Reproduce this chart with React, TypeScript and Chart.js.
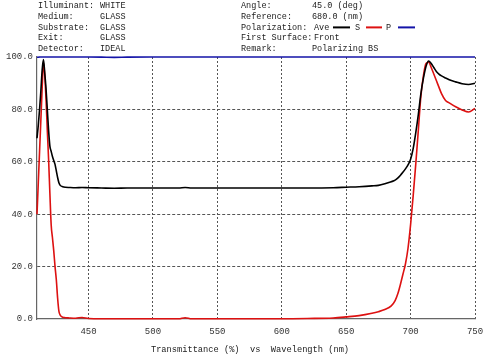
import React, { useEffect, useRef } from "react";
import { Chart, registerables } from "chart.js";

Chart.register(...registerables);

const wavelengths = [
  410, 411, 412, 413, 414, 415, 416, 417, 418, 419, 420, 421, 422, 423, 424, 425, 426, 427, 428, 430,
  432, 435, 440, 445, 450, 460, 470, 480, 500, 520, 525, 530, 550, 570, 600, 620, 640, 650, 660, 670,
  675, 680, 685, 688, 690, 692, 694, 696, 698, 700, 702, 704, 706, 708, 710, 712, 714, 716, 718, 720,
  722, 724, 727, 730, 735, 740, 745, 750,
];

const aveValues = [
  69, 74, 80, 87, 95, 99, 94, 88, 80, 72, 66, 64, 62, 60.5, 59, 56.5, 54, 52, 51, 50.5,
  50.3, 50.2, 50.1, 50.2, 50.1, 50, 49.9, 50, 50, 50, 50.2, 50, 50, 50, 50, 50, 50.1, 50.3, 50.5, 50.8,
  51, 51.6, 52.4, 53, 53.8, 54.8, 56, 57.3, 58.8, 61, 65, 71, 78, 86, 92, 96.5, 98.5, 97.5, 96, 94.5,
  93.5, 92.8, 92, 91.3, 90.5, 89.8, 89.5, 90,
];

const sValues = [
  40, 52, 64, 76, 88, 98, 93, 84, 72, 61, 48, 36, 31, 26, 20, 15, 8, 3, 1.5, 0.7,
  0.5, 0.4, 0.3, 0.6, 0.2, 0.1, 0.1, 0.1, 0.1, 0.1, 0.5, 0.1, 0.1, 0.1, 0.1, 0.2, 0.4, 0.8, 1.3, 2.2,
  2.8, 3.6, 5, 7, 9.5, 13, 17, 21, 27, 36, 47, 59, 72, 85, 93, 97.5, 98, 96, 93.5, 91,
  88.5, 86, 83.5, 82.5, 81, 79.8, 79, 80.4,
];

const pValues = [
  99.9, 99.9, 100, 100, 100, 100, 100, 100, 100, 100, 100, 100, 100, 100, 100, 100, 100, 100, 100, 100,
  100, 100, 100, 100, 100, 99.95, 99.85, 99.95, 100, 100, 100, 100, 100, 100, 100, 100, 100, 100, 100, 100,
  100, 100, 100, 100, 100, 100, 100, 100, 100, 100, 100, 100, 100, 100, 100, 100, 100, 100, 100, 100,
  100, 100, 100, 100, 100, 100, 100, 100,
];

const xTicks = [450, 500, 550, 600, 650, 700, 750];

const headerLeft: [string, string][] = [
  ["Illuminant:", "WHITE"],
  ["Medium:", "GLASS"],
  ["Substrate:", "GLASS"],
  ["Exit:", "GLASS"],
  ["Detector:", "IDEAL"],
];

const headerRight: [string, string][] = [
  ["Angle:", "45.0 (deg)"],
  ["Reference:", "680.0 (nm)"],
  ["Polarization:", ""],
  ["First Surface:", "Front"],
  ["Remark:", "Polarizing BS"],
];

const xTitle = "Transmittance (%)  vs  Wavelength (nm)";

const AVE_COLOR = "#000000";
const S_COLOR = "#dd1111";
const P_COLOR = "#1414a8";
const MONO = "'Liberation Mono', 'DejaVu Sans Mono', monospace";

const headerPlugin = {
  id: "header",
  afterDraw(chart: any) {
    const ctx = chart.ctx as CanvasRenderingContext2D;
    ctx.save();
    ctx.font = `8.5px ${MONO}`;
    ctx.fillStyle = "#222";
    ctx.textBaseline = "middle";
    ctx.textAlign = "left";
    headerLeft.forEach(([k, v], i) => {
      const y = 6 + i * 10.7;
      ctx.fillText(k, 38, y);
      ctx.fillText(v, 100, y);
    });
    headerRight.forEach(([k, v], i) => {
      const y = 6 + i * 10.7;
      ctx.fillText(k, 241, y);
      if (v) ctx.fillText(v, k.length > 12 ? 314 : 312, y);
    });
    const py = 6 + 2 * 10.7;
    const items: [string, string, number, number, number][] = [
      ["Ave", AVE_COLOR, 314, 333, 350],
      ["S", S_COLOR, 355, 366, 382],
      ["P", P_COLOR, 386, 398, 415],
    ];
    items.forEach(([label, color, tx, l1, l2]) => {
      ctx.fillStyle = "#222";
      ctx.fillText(label, tx, py);
      ctx.strokeStyle = color;
      ctx.lineWidth = 2;
      ctx.beginPath();
      ctx.moveTo(l1, py);
      ctx.lineTo(l2, py);
      ctx.stroke();
    });
    ctx.fillStyle = "#222";
    ctx.textAlign = "center";
    ctx.font = `8.7px ${MONO}`;
    ctx.fillText(xTitle, 250, 350);
    ctx.restore();
  },
};

export default function App() {
  const ref = useRef<HTMLCanvasElement | null>(null);

  useEffect(() => {
    if (!ref.current) return;
    const mk = (vals: number[]) => wavelengths.map((w, i) => ({ x: w, y: vals[i] }));
    const common = {
      pointRadius: 0,
      borderWidth: 1.6,
      fill: false,
      clip: false,
      cubicInterpolationMode: "monotone" as const,
    };
    const chart = new Chart(ref.current, {
      type: "line",
      data: {
        datasets: [
          { ...common, label: "P", data: mk(pValues), borderColor: P_COLOR, order: 3 },
          { ...common, label: "S", data: mk(sValues), borderColor: S_COLOR, order: 2 },
          { ...common, label: "Ave", data: mk(aveValues), borderColor: AVE_COLOR, order: 1 },
        ],
      },
      options: {
        animation: false,
        responsive: false,
        events: [],
        layout: { padding: { top: 57, right: 25, left: 0, bottom: 0 } },
        plugins: { legend: { display: false }, tooltip: { enabled: false }, title: { display: false } },
        scales: {
          x: {
            type: "linear",
            min: 410,
            max: 750,
            afterFit: (s: any) => {
              s.height = 41;
            },
            afterBuildTicks: (s: any) => {
              s.ticks = xTicks.map((v) => ({ value: v }));
            },
            ticks: {
              font: { family: MONO, size: 9 },
              color: "#333",
              padding: 7,
              maxRotation: 0,
              autoSkip: false,
              callback: (v: any) => String(v),
            },
            grid: {
              drawTicks: false,
              color: "#555",
              lineWidth: 1,
            },
            border: { display: true, color: "#666", width: 1.2, dash: [2, 2] },
          },
          y: {
            min: 0,
            max: 100,
            afterFit: (s: any) => {
              s.width = 37;
            },
            ticks: {
              stepSize: 20,
              font: { family: MONO, size: 9 },
              color: "#333",
              padding: 4,
              callback: (v: any) => Number(v).toFixed(1),
            },
            grid: {
              drawTicks: false,
              color: (c: any) => (c.tick && (c.tick.value === 0 || c.tick.value === 100) ? "rgba(0,0,0,0)" : "#555"),
              lineWidth: 1,
            },
            border: { display: true, color: "#666", width: 1.2, dash: [3, 2] },
          },
        },
      },
      plugins: [headerPlugin],
    } as any);
    return () => chart.destroy();
  }, []);

  return (
    <div style={{ position: "fixed", left: 0, top: 0, width: 500, height: 360, background: "#fff" }}>
      <canvas ref={ref} width={500} height={360} />
    </div>
  );
}
